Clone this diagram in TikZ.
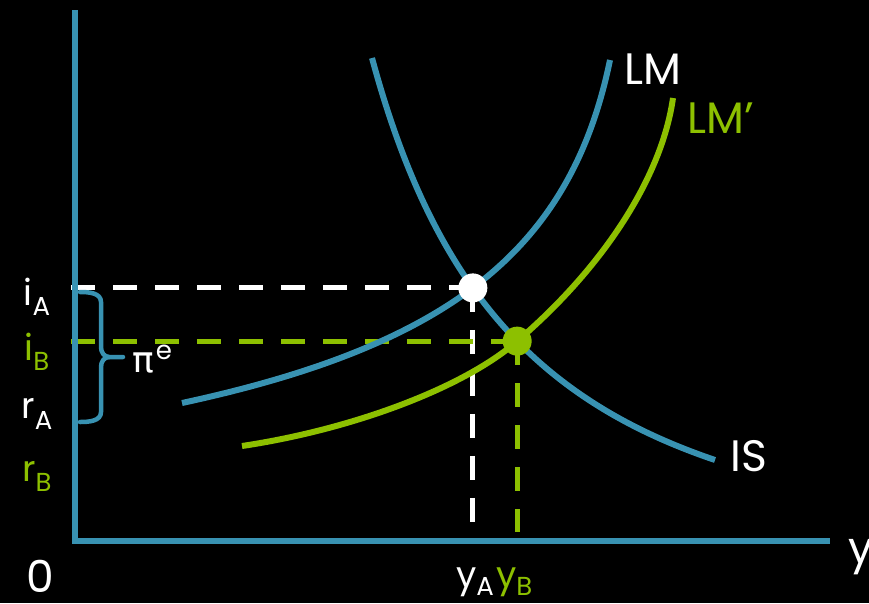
\documentclass[tikz,border=0pt]{standalone}
\usepackage{fontspec}
\setmainfont{Poppins}
\newfontfamily\dejavu{DejaVu Sans}
\usetikzlibrary{intersections}
\definecolor{axblue}{RGB}{56,146,178}
\definecolor{lmgreen}{RGB}{141,192,0}
\begin{document}
\begin{tikzpicture}[x=1pt,y=-1pt,
  curve/.style={line width=6pt},
  dashline/.style={line width=5pt,dash pattern=on 24pt off 18pt},
  lab/.style={font=\fontsize{36}{40}\selectfont,inner sep=0pt,anchor=base},
  big/.style={font=\fontsize{44}{50}\selectfont,inner sep=0pt,anchor=base}]
\fill[black] (0,0) rectangle (869,603);
\useasboundingbox (0,0) rectangle (869,603);
% curve paths (named, drawn later)
\def\ISpath{(372,58) .. controls (432.5,281.7) and (532,398) .. (715,460)}
\def\LMpath{(182,403) .. controls (451,345) and (571,249) .. (610,60)}
\def\LMppath{(242,446) .. controls (352.6,429.4) and (461.8,388.2) .. (515,343) .. controls (603.2,268) and (661.7,177.4) .. (673,98)}
\path[name path=IS] \ISpath;
\path[name path=LM] \LMpath;
\path[name path=LMp] \LMppath;
\path[name intersections={of=IS and LM,by=A}];
\path[name intersections={of=IS and LMp,by=B}];
% dashed guide lines
\coordinate (aL) at (71,0);
\coordinate (aB) at (0,524);
\coordinate (bB) at (0,532);
\draw[dashline,white] (aL |- A) -- (A);
\draw[dashline,white] (A) -- (A |- aB);
\draw[dashline,lmgreen] (aL |- B) -- (B);
\draw[dashline,lmgreen] (B) -- (B |- bB);
% axes
\draw[axblue,line width=6pt] (75,10) -- (75,541) -- (830,541);
% curves
\draw[curve,axblue] \ISpath;
\draw[curve,axblue] \LMpath;
\draw[curve,lmgreen] \LMppath;
% points
\fill[white] (A) circle (14.5);
\fill[lmgreen] (B) circle (14.5);
% brace
\draw[axblue,line width=4.5pt,line cap=round,line join=round]
  (80,292) to[out=0,in=90] (101,302) -- (101,347) to[out=-90,in=180] (109,357) -- (123,357);
\draw[axblue,line width=4.5pt,line cap=round,line join=round]
  (109,357) to[out=180,in=90] (101,367) -- (101,412) to[out=-90,in=0] (80,422);
\node[lab,white,anchor=base west] (pie) at (132,372) {{\dejavu π}\kern2pt\raisebox{13pt}{\fontsize{26}{30}\selectfont e}};
% axis labels
\node[lab,white] (iA) at (37,305) {i\raisebox{-10pt}{\fontsize{26}{30}\selectfont A}};
\node[lab,lmgreen] (iB) at (37,360) {i\raisebox{-10pt}{\fontsize{26}{30}\selectfont B}};
\node[lab,white] (rA) at (37,418) {r\raisebox{-11pt}{\fontsize{26}{30}\selectfont A}};
\node[lab,lmgreen] (rB) at (37,481) {r\raisebox{-10pt}{\fontsize{26}{30}\selectfont B}};
\node[big,white] (zero) at (40,592) {0};
\node[lab,white,anchor=base east] (yA) at (494,587) {y\raisebox{-8pt}{\fontsize{26}{30}\selectfont A}};
\node[lab,lmgreen,anchor=base west] (yB) at (496,587) {y\raisebox{-8pt}{\fontsize{26}{30}\selectfont B}};
\node[big,white,anchor=base west] (yax) at (848,563) {y};
\node[big,white,anchor=base west] (LM) at (624,84) {LM};
\node[big,lmgreen,anchor=base west] (LMp) at (687,133) {LM’};
\node[big,white,anchor=base west] (IS) at (730,471) {IS};
\end{tikzpicture}
\end{document}
